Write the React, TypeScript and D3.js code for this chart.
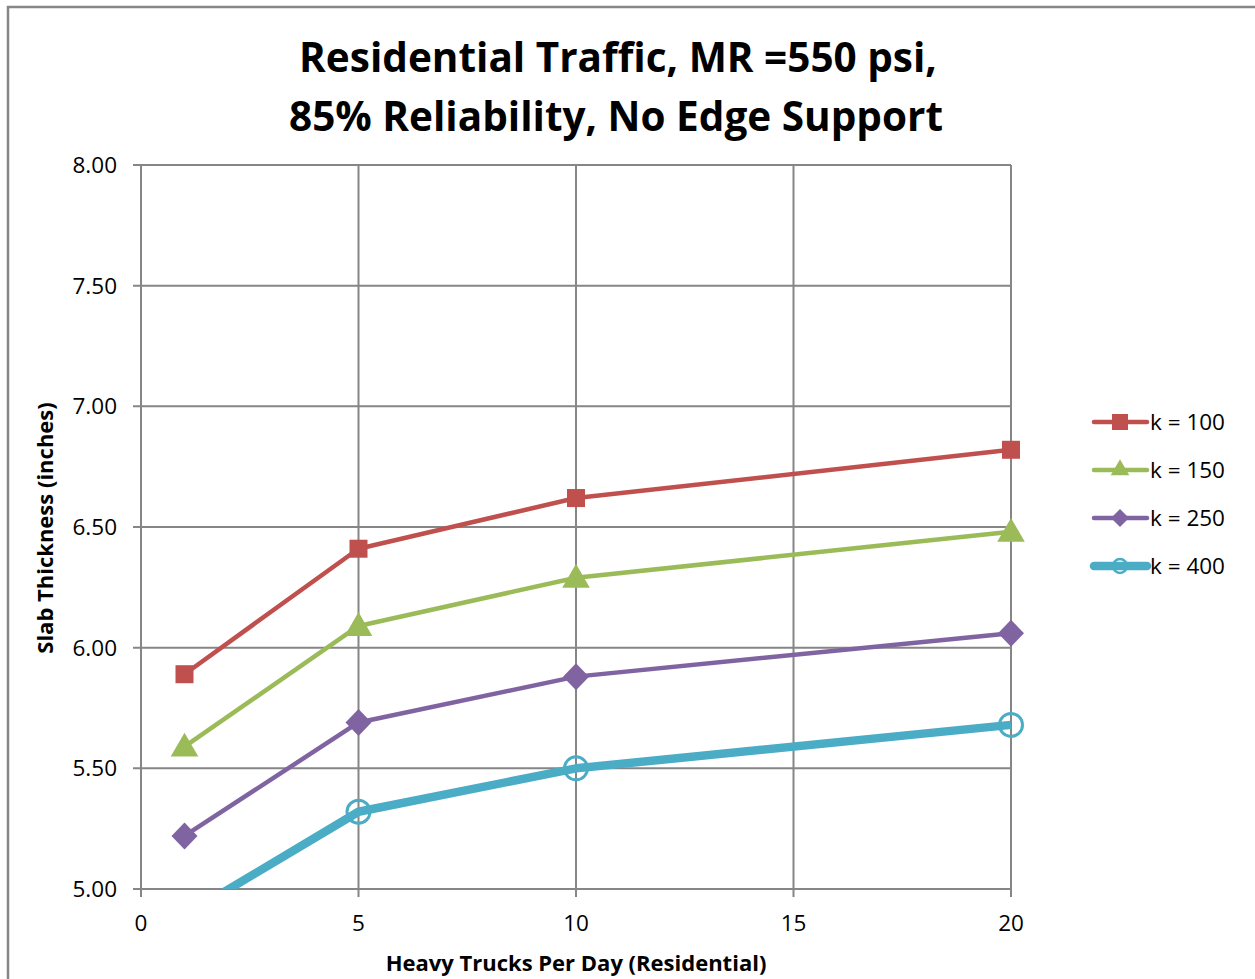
import React from "react";
import * as d3 from "d3";

const trucks = [1, 5, 10, 20];
const k100 = [5.89, 6.41, 6.62, 6.82];
const k150 = [5.59, 6.09, 6.29, 6.48];
const k250 = [5.22, 5.69, 5.88, 6.06];
const k400 = [4.89, 5.32, 5.5, 5.68];
const xTicks = [0, 5, 10, 15, 20];
const yTicks = [5.0, 5.5, 6.0, 6.5, 7.0, 7.5, 8.0];
const seriesNames = ["k = 100", "k = 150", "k = 250", "k = 400"];

const FONT = "'Open Sans', 'Noto Sans', sans-serif";

export default function App() {
  const left = 141, right = 1011, top = 165, bottom = 889;
  const x = d3.scaleLinear().domain([0, 20]).range([left, right]);
  const y = d3.scaleLinear().domain([5, 8]).range([bottom, top]);
  const series = [
    { name: seriesNames[0], values: k100, color: "#C0504D", width: 4.5, marker: "square" },
    { name: seriesNames[1], values: k150, color: "#9BBB59", width: 4.5, marker: "triangle" },
    { name: seriesNames[2], values: k250, color: "#8064A2", width: 4.5, marker: "diamond" },
    { name: seriesNames[3], values: k400, color: "#4BACC6", width: 8.5, marker: "circle" },
  ];
  const line = d3.line<number>().x((_, i) => x(trucks[i])).y((d) => y(d));
  const grid = "#868686";

  const marker = (type: string, cx: number, cy: number, color: string, key: string) => {
    if (type === "square")
      return <rect key={key} x={cx - 9} y={cy - 9} width={18} height={18} fill={color} />;
    if (type === "triangle") {
      const p = d3.symbol().type(d3.symbolTriangle).size(330)();
      return <path key={key} d={p || ""} transform={`translate(${cx},${cy + 2})`} fill={color} />;
    }
    if (type === "diamond")
      return <path key={key} d={`M${cx},${cy - 13.5}L${cx + 13},${cy}L${cx},${cy + 13.5}L${cx - 13},${cy}Z`} fill={color} />;
    return <circle key={key} cx={cx} cy={cy} r={11.5} fill="none" stroke={color} strokeWidth={3} />;
  };

  return (
    <svg width={1255} height={979} style={{ position: "absolute", left: 0, top: 0, background: "#fff" }}>
      <defs>
        <clipPath id="innerclip">
          <rect x={left} y={top - 20} width={right - left + 20} height={bottom - top + 20} />
        </clipPath>
      </defs>
      <rect x={8} y={7} width={1260} height={990} fill="#fff" stroke={grid} strokeWidth={2.5} />
      <text x={618} y={72} textAnchor="middle" fontFamily={FONT} fontWeight="bold" fontSize={40.5} fill="#000">
        Residential Traffic, MR =550 psi,
      </text>
      <text x={616} y={131} textAnchor="middle" fontFamily={FONT} fontWeight="bold" fontSize={40.5} fill="#000">
        85% Reliability, No Edge Support
      </text>
      {yTicks.map((t) => (
        <g key={"y" + t}>
          <line x1={left - 8} x2={right} y1={y(t)} y2={y(t)} stroke={grid} strokeWidth={2} />
          <text x={left - 24} y={y(t) + 8} textAnchor="end" fontFamily={FONT} fontSize={22.5} fill="#000">
            {t.toFixed(2)}
          </text>
        </g>
      ))}
      {xTicks.map((t) => (
        <g key={"x" + t}>
          <line x1={x(t)} x2={x(t)} y1={top} y2={bottom + 8} stroke={grid} strokeWidth={2} />
          <text x={x(t)} y={bottom + 42} textAnchor="middle" fontFamily={FONT} fontSize={22.5} fill="#000">
            {t}
          </text>
        </g>
      ))}
      <text x={576} y={971} textAnchor="middle" fontFamily={FONT} fontWeight="bold" fontSize={22} fill="#000">
        Heavy Trucks Per Day (Residential)
      </text>
      <text transform={`translate(53,528) rotate(-90)`} textAnchor="middle" fontFamily={FONT} fontWeight="bold" fontSize={22} fill="#000">
        Slab Thickness (inches)
      </text>
      {series.map((s) => (
        <g key={s.name}>
          <path d={line(s.values) || ""} fill="none" stroke={s.color} strokeWidth={s.width} strokeLinejoin="round" clipPath="url(#innerclip)" />
          {s.values.map((v, i) => (v >= 5 ? marker(s.marker, x(trucks[i]), y(v), s.color, s.name + i) : null))}
        </g>
      ))}
      {series.map((s, i) => {
        const ly = 422 + i * 48;
        return (
          <g key={"lg" + s.name}>
            <line x1={1094} x2={1147} y1={ly} y2={ly} stroke={s.color} strokeWidth={s.width} strokeLinecap="round" />
            {s.marker === "circle"
              ? <circle cx={1120} cy={ly} r={7} fill="none" stroke={s.color} strokeWidth={2.5} />
              : s.marker === "square"
              ? <rect x={1112} y={ly - 8} width={16} height={16} fill={s.color} />
              : s.marker === "triangle"
              ? <path d={d3.symbol().type(d3.symbolTriangle).size(150)() || ""} transform={`translate(1120,${ly})`} fill={s.color} />
              : <path d={`M1120,${ly - 9}L1129,${ly}L1120,${ly + 9}L1111,${ly}Z`} fill={s.color} />}
            <text x={1150} y={ly + 8} fontFamily={FONT} fontSize={22.5} fill="#000">{s.name}</text>
          </g>
        );
      })}
    </svg>
  );
}
